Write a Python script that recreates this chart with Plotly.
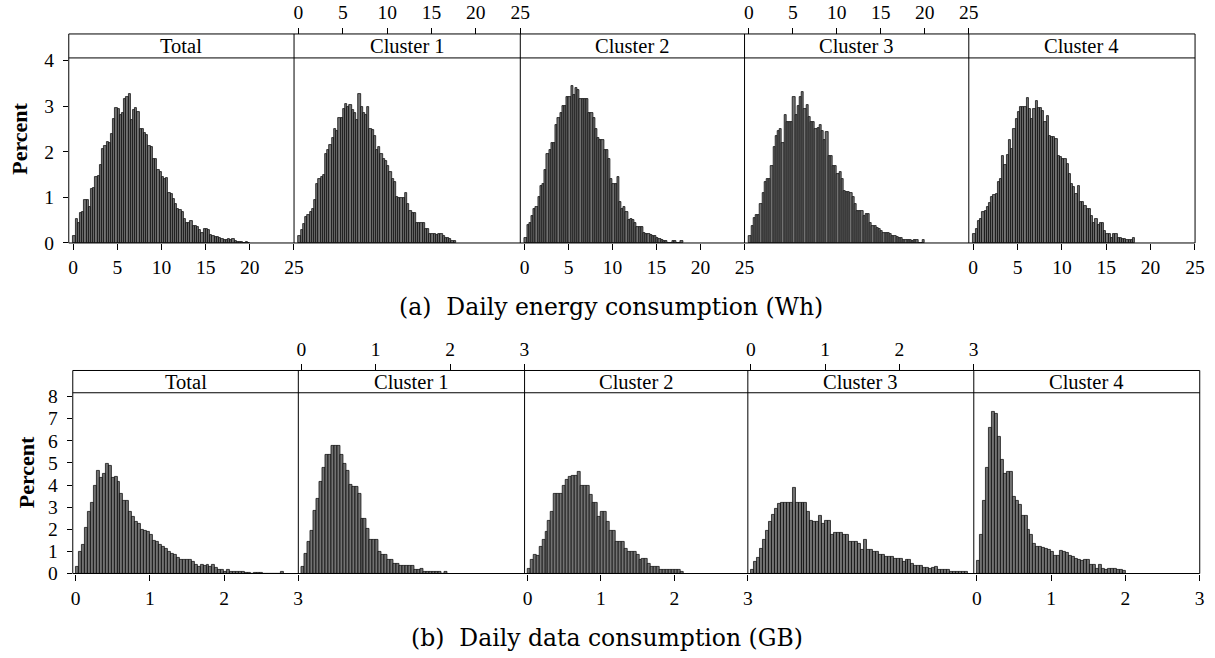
import plotly.graph_objects as go
import numpy as np

W, H = 1215, 658

PANELS = ["Total", "Cluster 1", "Cluster 2", "Cluster 3", "Cluster 4"]

# Daily energy consumption (Wh), bin width 0.25 Wh, percent per bin
ENERGY_BIN = 0.25
energy_total = [0.15, 0.52, 0.45, 0.65, 0.68, 0.95, 0.95, 0.80, 1.18, 1.20,
                1.45, 1.48, 1.72, 2.07, 2.12, 2.22, 2.20, 2.40, 2.72, 2.97,
                2.95, 2.82, 2.85, 3.17, 3.20, 3.28, 2.70, 2.92, 2.97, 2.88,
                2.50, 2.50, 2.42, 2.38, 2.12, 2.10, 1.85, 1.85, 1.60, 1.55,
                1.45, 1.40, 1.42, 1.10, 1.08, 0.97, 0.85, 0.75, 0.72, 0.68,
                0.52, 0.45, 0.45, 0.48, 0.38, 0.37, 0.35, 0.28, 0.22, 0.30,
                0.30, 0.28, 0.17, 0.15, 0.13, 0.13, 0.12, 0.08, 0.06, 0.07,
                0.08, 0.06, 0.08, 0.04, 0.03, 0.02, 0.03, 0.01, 0.03, 0.01]
energy_c1 = [0.15, 0.28, 0.42, 0.58, 0.62, 0.68, 0.75, 0.95, 1.30, 1.40,
             1.45, 1.50, 1.95, 2.05, 2.15, 2.30, 2.50, 2.45, 2.75, 2.75,
             2.95, 3.05, 2.98, 3.02, 2.92, 2.85, 2.70, 3.28, 2.98, 2.85,
             2.80, 2.98, 2.50, 2.48, 2.35, 2.05, 2.10, 1.95, 1.85, 1.80,
             1.70, 1.55, 1.40, 1.35, 1.00, 0.98, 0.98, 0.98, 1.10, 0.85,
             0.70, 0.65, 0.65, 0.45, 0.45, 0.45, 0.45, 0.30, 0.30, 0.20,
             0.20, 0.20, 0.18, 0.20, 0.20, 0.15, 0.12, 0.10, 0.08, 0.05,
             0.05]
energy_c2 = [0.12, 0.40, 0.45, 0.60, 0.75, 0.80, 1.00, 1.25, 1.30, 1.60,
             1.95, 2.05, 2.20, 2.20, 2.60, 2.75, 2.85, 3.00, 3.00, 3.20,
             3.20, 3.45, 3.25, 3.40, 3.35, 3.15, 3.15, 3.15, 3.15, 2.85,
             2.85, 2.75, 2.50, 2.30, 2.25, 2.25, 2.05, 2.05, 1.85, 1.40,
             1.30, 1.30, 1.45, 0.90, 0.75, 0.80, 0.68, 0.50, 0.52, 0.50,
             0.45, 0.35, 0.35, 0.35, 0.22, 0.20, 0.20, 0.18, 0.15, 0.15,
             0.12, 0.08, 0.06, 0.04, 0.04, 0.0, 0.0, 0.04, 0.04, 0.0,
             0.0, 0.04]
energy_c3 = [0.15, 0.38, 0.55, 0.62, 0.62, 0.85, 1.10, 1.35, 1.40, 1.40,
             1.70, 2.10, 2.35, 2.45, 2.50, 2.20, 2.81, 2.66, 2.65, 2.65,
             3.20, 2.80, 3.00, 3.20, 3.32, 2.94, 3.03, 2.77, 2.65, 2.65,
             2.50, 2.52, 2.60, 2.46, 2.25, 2.44, 1.92, 1.92, 1.70, 1.70,
             1.51, 1.55, 1.40, 1.15, 1.11, 1.11, 1.09, 1.00, 0.86, 0.70,
             0.71, 0.71, 0.60, 0.64, 0.64, 0.43, 0.38, 0.38, 0.34, 0.31,
             0.27, 0.23, 0.22, 0.22, 0.20, 0.16, 0.16, 0.14, 0.11, 0.11,
             0.07, 0.07, 0.07, 0.07, 0.04, 0.07, 0.07, 0.0, 0.0, 0.07]
energy_c4 = [0.20, 0.31, 0.49, 0.53, 0.69, 0.71, 0.80, 0.87, 1.00, 1.06,
             1.07, 1.33, 1.40, 1.92, 1.72, 1.94, 2.25, 2.06, 2.50, 2.72,
             2.87, 2.98, 2.98, 2.98, 3.18, 2.94, 2.72, 2.94, 3.12, 2.96,
             2.96, 2.90, 2.65, 2.79, 2.35, 2.33, 2.33, 2.28, 1.92, 1.88,
             1.84, 1.84, 1.73, 1.51, 1.29, 1.22, 1.07, 1.26, 0.89, 0.89,
             0.82, 0.75, 0.75, 0.60, 0.43, 0.53, 0.40, 0.45, 0.45, 0.27,
             0.20, 0.20, 0.12, 0.20, 0.20, 0.12, 0.11, 0.09, 0.09, 0.07,
             0.07, 0.07, 0.11]

# Daily data consumption (GB), bin width 0.04 GB, percent per bin
DATA_BIN = 0.04
data_total = [0.30, 0.98, 1.28, 2.07, 2.78, 3.18, 3.98, 4.65, 4.35, 4.50,
              4.95, 4.88, 4.35, 4.38, 4.13, 3.60, 3.27, 3.30, 2.78, 2.55,
              2.33, 2.25, 1.98, 1.95, 1.88, 1.73, 1.50, 1.43, 1.28, 1.20,
              1.13, 0.98, 0.90, 0.83, 0.72, 0.63, 0.60, 0.60, 0.60, 0.53,
              0.38, 0.30, 0.38, 0.33, 0.38, 0.30, 0.38, 0.27, 0.18, 0.18,
              0.08, 0.15, 0.08, 0.06, 0.06, 0.06, 0.06, 0.05, 0.05, 0.0,
              0.05, 0.05, 0.05, 0.0, 0.0, 0.0, 0.0, 0.0, 0.0, 0.08]
data_c1 = [0.30, 0.90, 1.45, 1.95, 2.85, 3.40, 4.13, 4.80, 5.38, 5.38,
           5.78, 5.78, 5.78, 5.38, 4.95, 4.65, 4.00, 3.90, 3.90, 3.60,
           2.48, 2.48, 2.03, 1.53, 1.53, 1.53, 0.98, 0.87, 0.87, 0.63,
           0.63, 0.45, 0.45, 0.33, 0.33, 0.33, 0.33, 0.33, 0.18, 0.18,
           0.22, 0.08, 0.08, 0.08, 0.08, 0.08, 0.08, 0.0, 0.08]
data_c2 = [0.22, 0.60, 0.87, 0.78, 1.20, 1.53, 1.88, 2.37, 2.78, 3.60,
           3.60, 3.60, 3.98, 4.25, 4.38, 4.43, 4.43, 4.58, 3.98, 3.98,
           3.98, 3.57, 3.18, 3.18, 2.55, 2.78, 2.78, 2.33, 1.95, 1.95,
           1.43, 1.43, 1.43, 1.13, 0.98, 0.98, 0.98, 0.87, 0.63, 0.68,
           0.68, 0.45, 0.30, 0.30, 0.30, 0.15, 0.15, 0.15, 0.15, 0.15,
           0.18, 0.18, 0.08]
data_c3 = [0.18, 0.53, 0.72, 1.13, 1.53, 1.95, 2.33, 2.66, 2.93, 3.15,
           3.20, 3.18, 3.18, 3.18, 3.87, 3.18, 3.18, 3.18, 3.18, 2.78,
           2.37, 2.33, 2.33, 2.60, 2.25, 2.37, 2.37, 1.77, 1.83, 1.83,
           1.83, 1.77, 1.77, 1.43, 1.43, 1.43, 1.35, 1.08, 1.53, 1.08,
           1.08, 0.98, 0.98, 0.87, 0.87, 0.75, 0.75, 0.75, 0.66, 0.66,
           0.66, 0.53, 0.60, 0.60, 0.45, 0.36, 0.36, 0.36, 0.27, 0.27,
           0.20, 0.27, 0.30, 0.15, 0.15, 0.18, 0.18, 0.09, 0.09, 0.09,
           0.09, 0.09, 0.09]
data_c4 = [0.57, 1.77, 3.30, 4.77, 6.58, 7.33, 7.21, 6.19, 5.15, 4.50,
           4.58, 4.62, 3.45, 3.30, 3.12, 2.63, 2.63, 1.98, 1.73, 1.35,
           1.20, 1.20, 1.17, 1.13, 1.08, 0.98, 0.78, 0.78, 1.02, 0.98,
           0.93, 0.80, 0.75, 0.68, 0.63, 0.57, 0.60, 0.60, 0.41, 0.38,
           0.23, 0.38, 0.23, 0.18, 0.23, 0.23, 0.23, 0.18, 0.18, 0.12]

energy_tick_vals = [0, 5, 10, 15, 20, 25]
data_tick_vals = [0, 1, 2, 3]
energy_y_ticks = [0, 1, 2, 3, 4]
data_y_ticks = [0, 1, 2, 3, 4, 5, 6, 7, 8]

CAPTION_A = "(a)  Daily energy consumption (Wh)"
CAPTION_B = "(b)  Daily data consumption (GB)"

# ---------------- layout geometry ----------------
# Target pixel positions are measured on the reference picture; the page
# capture maps the figure slightly (x*0.9934, 6 + y*0.974), so compensate.
SX, SY, OY = 0.9934, 0.974, 6.0

def fx(px):
    return (px / SX) / W

def fy(py):
    return 1 - ((py - OY) / SY) / H

SERIF = "Liberation Serif"
CAPTION_FONT = "DejaVu Serif"
BAR_FILL = "#727272"
BAR_LINE = "#000000"

rows = [
    dict(series=[energy_total, energy_c1, energy_c2, energy_c3, energy_c4],
         bw=ENERGY_BIN, edges=[67, 293, 520, 745, 970, 1197],
         frame_top=33, header_bottom=57, base=242.3,
         xrange=[-0.5, 25.01], yrange=[0, 4.06],
         xticks=energy_tick_vals, yticks=energy_y_ticks,
         caption=CAPTION_A, caption_y=306, caption_x=611,
         ylabel_x=18, ylabel_y=138),
    dict(series=[data_total, data_c1, data_c2, data_c3, data_c4],
         bw=DATA_BIN, edges=[71, 297.3, 524.3, 748.3, 975, 1201.7],
         frame_top=370, header_bottom=392.3, base=573.3,
         xrange=[-0.04, 3.001], yrange=[0, 8.17],
         xticks=data_tick_vals, yticks=data_y_ticks,
         caption=CAPTION_B, caption_y=638, caption_x=607,
         ylabel_x=24, ylabel_y=472),
]

fig = go.Figure()
layout = dict(
    width=W, height=H,
    margin=dict(l=0, r=0, t=0, b=0),
    paper_bgcolor="white", plot_bgcolor="white",
    showlegend=False, bargap=0,
    font=dict(family=SERIF, size=19, color="black"),
)
shapes = []
annotations = []

TICK_FONT = dict(family=SERIF, size=19.5, color="black")

idx = 0
for r in rows:
    edges = r["edges"]
    for p, vals in enumerate(r["series"]):
        idx += 1
        xa = "xaxis" if idx == 1 else f"xaxis{idx}"
        ya = "yaxis" if idx == 1 else f"yaxis{idx}"
        xref = "x" if idx == 1 else f"x{idx}"
        yref = "y" if idx == 1 else f"y{idx}"
        centers = r["bw"] * (np.arange(len(vals)) + 0.5)
        fig.add_trace(go.Bar(
            x=centers, y=vals, width=r["bw"],
            marker=dict(color=BAR_FILL, line=dict(color=BAR_LINE, width=0.7)),
            xaxis=xref, yaxis=yref, hoverinfo="skip",
        ))
        top_ticks = (p % 2 == 1)
        xaxis = dict(
            domain=[fx(edges[p]), fx(edges[p + 1])],
            range=r["xrange"], showgrid=False, zeroline=False,
            showline=False, tickmode="array", tickvals=r["xticks"],
            ticks="outside", ticklen=6, tickwidth=1, tickcolor="black",
            tickfont=TICK_FONT, fixedrange=True,
        )
        if top_ticks:
            xaxis.update(anchor="free", position=fy(r["frame_top"]), side="top",
                         ticklabelstandoff=1)
        else:
            xaxis.update(anchor=yref, side="bottom", ticklabelstandoff=1)
        layout[xa] = xaxis
        yaxis = dict(
            domain=[fy(r["base"]), fy(r["header_bottom"])],
            range=r["yrange"], anchor=xref, showgrid=False, zeroline=False,
            showline=False, fixedrange=True,
        )
        if p == 0:
            yaxis.update(tickmode="array", tickvals=r["yticks"], ticks="outside",
                         ticklen=5, tickwidth=1, tickcolor="black",
                         tickfont=TICK_FONT, ticklabelstandoff=5)
        else:
            yaxis.update(showticklabels=False, ticks="")
        layout[ya] = yaxis

        # panel header text
        annotations.append(dict(
            x=fx((edges[p] + edges[p + 1]) / 2),
            y=fy((r["frame_top"] + r["header_bottom"]) / 2),
            xref="paper", yref="paper", text=PANELS[p], showarrow=False,
            font=dict(family=SERIF, size=20.5, color="black"),
            xanchor="center", yanchor="middle",
        ))

    # frame
    line = dict(color="black", width=1)
    shapes.append(dict(type="rect", xref="paper", yref="paper",
                       x0=fx(edges[0]), x1=fx(edges[-1]),
                       y0=fy(r["base"]), y1=fy(r["frame_top"]),
                       line=line, layer="above"))
    shapes.append(dict(type="line", xref="paper", yref="paper",
                       x0=fx(edges[0]), x1=fx(edges[-1]),
                       y0=fy(r["header_bottom"]), y1=fy(r["header_bottom"]),
                       line=line, layer="above"))
    for e in edges[1:-1]:
        shapes.append(dict(type="line", xref="paper", yref="paper",
                           x0=fx(e), x1=fx(e),
                           y0=fy(r["base"]), y1=fy(r["frame_top"]),
                           line=line, layer="above"))
    # y title
    annotations.append(dict(
        x=fx(r["ylabel_x"]), y=fy(r["ylabel_y"]), xref="paper", yref="paper",
        text="<b>Percent</b>", showarrow=False, textangle=-90,
        font=dict(family=SERIF, size=22, color="black"),
        xanchor="center", yanchor="middle",
    ))
    # caption
    annotations.append(dict(
        x=fx(r["caption_x"]), y=fy(r["caption_y"]), xref="paper", yref="paper",
        text=r["caption"], showarrow=False,
        font=dict(family=CAPTION_FONT, size=23.5, color="black"),
        xanchor="center", yanchor="middle",
    ))

layout["shapes"] = shapes
layout["annotations"] = annotations
fig.update_layout(**layout)
fig.write_html("out.html")
